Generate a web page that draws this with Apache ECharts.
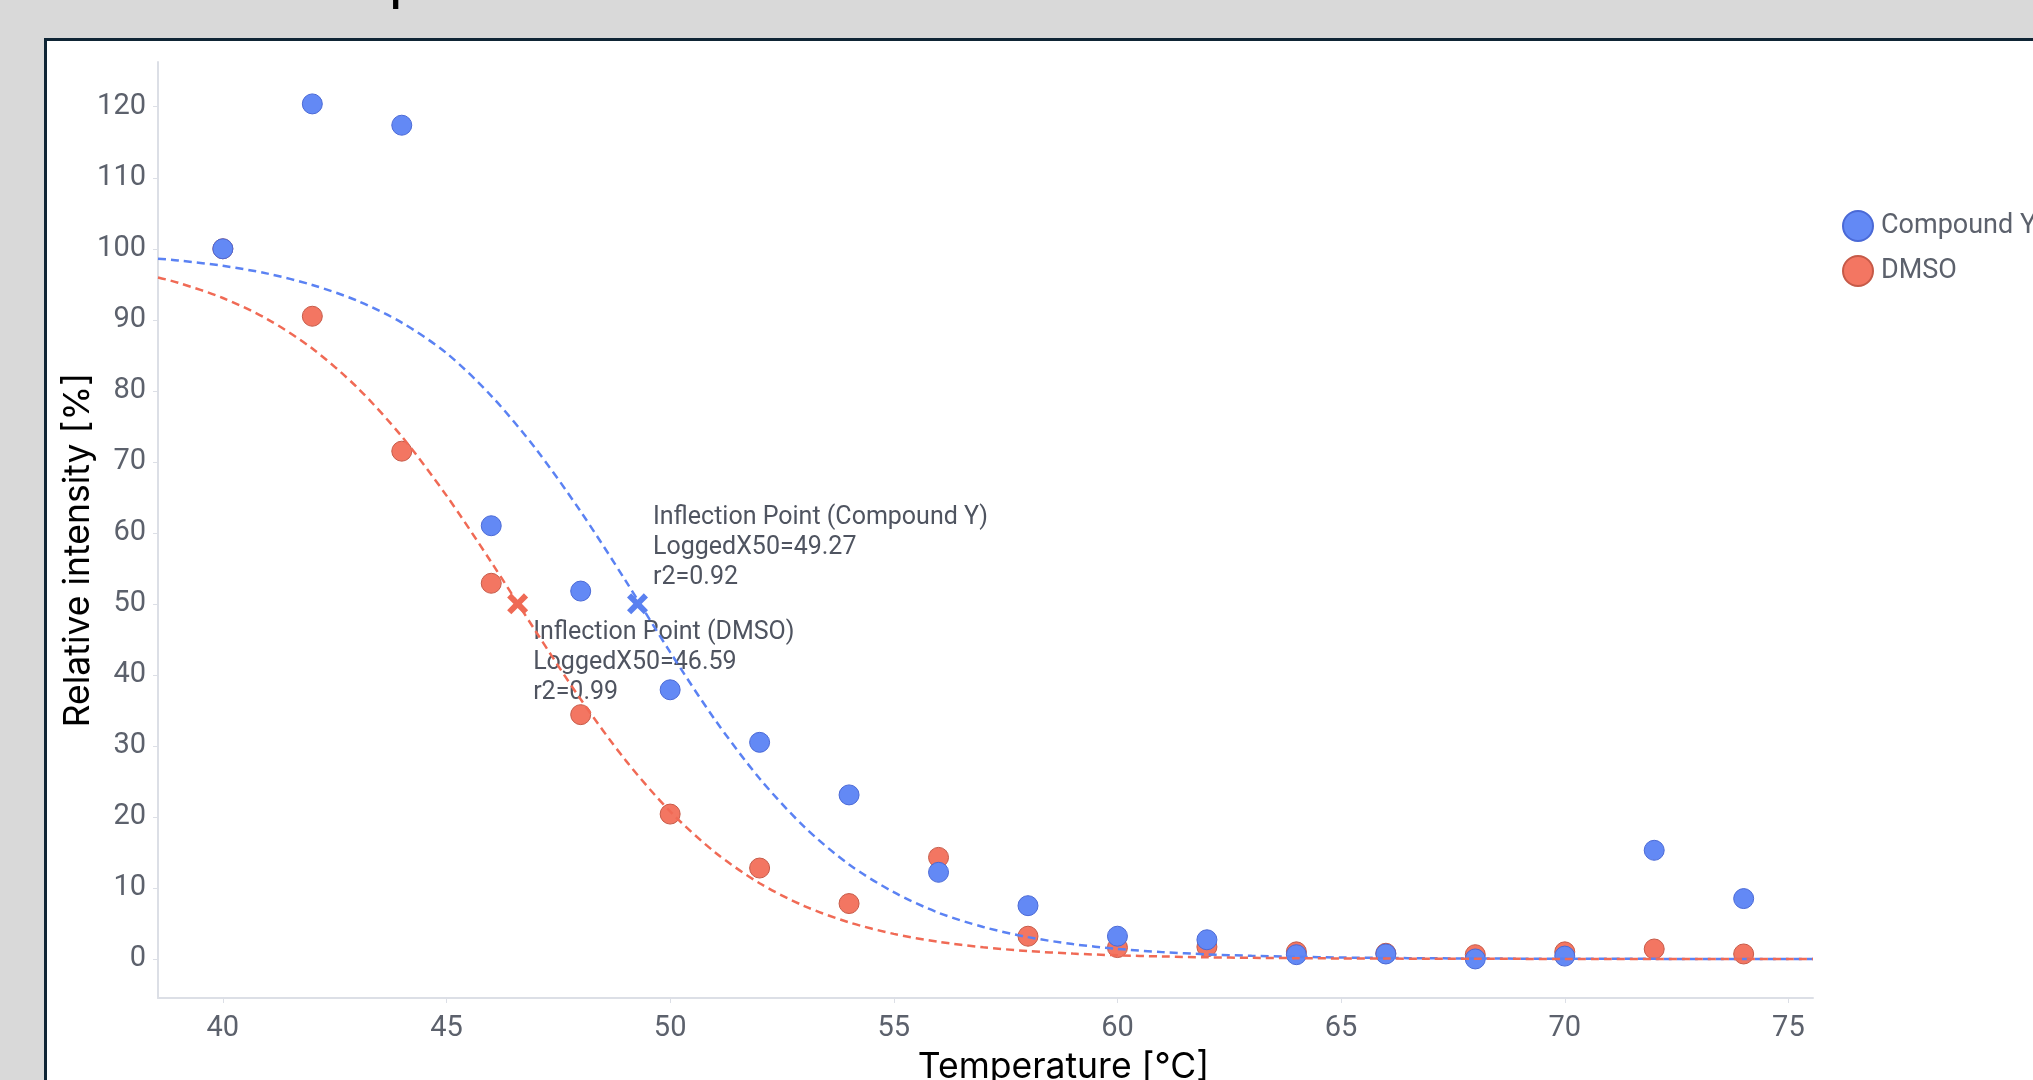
<!DOCTYPE html>
<html>
<head>
<meta charset="utf-8">
<script src="https://cdn.jsdelivr.net/npm/echarts@6/dist/echarts.min.js"></script>
<style>
html, body {
  margin: 0;
  padding: 0;
  width: 2033px;
  height: 1080px;
  overflow: hidden;
  background: #d9d9d9;
}
.heading {
  position: absolute;
  left: 389px;
  top: -53px;
  font: 60px/60px 'Liberation Sans', sans-serif;
  color: #000;
}
.panel {
  position: absolute;
  left: 44px;
  top: 38px;
  width: 2100px;
  height: 1100px;
  background: #fff;
  border-top: 3px solid #0f2535;
  border-left: 3px solid #0f2535;
}
#chart {
  position: absolute;
  left: 0;
  top: 0;
  width: 2033px;
  height: 1080px;
}
</style>
</head>
<body>
<div class="heading">p</div>
<div class="panel"></div>
<div id="chart"></div>
<script>
// measured points
const temps = [40, 42, 44, 46, 48, 50, 52, 54, 56, 58, 60, 62, 64, 66, 68, 70, 72, 74]
const compoundY = [100, 120.4, 117.4, 61.0, 51.8, 37.9, 30.5, 23.1, 12.2, 7.5, 3.2, 2.7, 0.6, 0.7, 0.0, 0.4, 15.3, 8.5]
const dmso = [100, 90.5, 71.5, 52.9, 34.4, 20.4, 12.8, 7.8, 14.3, 3.2, 1.6, 1.7, 1.0, 0.8, 0.6, 1.0, 1.4, 0.7]

// fitted curves
const fitX = [38.55, 39, 40, 41, 42, 43, 44, 45, 46, 47, 48, 49, 50, 51, 52, 53, 54, 55, 56, 57, 58, 59, 60, 61, 62, 63, 64, 65, 66, 67, 68, 69, 70, 71, 72, 73, 74, 75, 75.55]
const fitCompoundY = [98.6, 98.35, 97.6, 96.5, 94.9, 92.7, 89.6, 85.3, 79.3, 71.8, 63.0, 53.3, 43.2, 33.7, 25.4, 18.6, 13.3, 9.4, 6.5, 4.5, 3.07, 2.09, 1.42, 0.96, 0.65, 0.44, 0.3, 0.2, 0.14, 0.09, 0.06, 0.04, 0.03, 0.02, 0.01, 0, 0, 0, 0]
const fitDmso = [95.95, 95.22, 93.07, 90.07, 85.95, 80.49, 73.57, 65.24, 55.88, 46.08, 36.56, 28.0, 20.77, 15.03, 10.66, 7.45, 5.15, 3.53, 2.41, 1.64, 1.11, 0.75, 0.51, 0.35, 0.23, 0.16, 0.11, 0.07, 0.05, 0.03, 0.02, 0.01, 0, 0, 0, 0, 0, 0, 0]

// inflection points
const inflNames = ['Compound Y', 'DMSO']
const inflX = [49.27, 46.59]
const inflY = [50, 50]
const inflR2 = ['0.92', '0.99']

const xTicks = [40, 45, 50, 55, 60, 65, 70, 75]
const yTicks = [0, 10, 20, 30, 40, 50, 60, 70, 80, 90, 100, 110, 120]

const BLUE = '#6389f5'
const RED = '#f37662'
const LABEL = '#5c616c'
const AXIS = '#dcdfe6'

const zip = (xs, ys) => xs.map((x, i) => [x, ys[i]])
const crossPath = 'path://M0,4 L4,0 L10,6 L16,0 L20,4 L14,10 L20,16 L16,20 L10,14 L4,20 L0,16 L6,10 Z'

const chart = echarts.init(document.getElementById('chart'))

chart.setOption({
  animation: false,
  grid: {
    left: 158,
    right: 220,
    top: 62,
    bottom: 82,
    outerBoundsMode: 'none',
  },
  legend: {
    data: ['Compound Y', 'DMSO'],
    orient: 'vertical',
    left: 1837,
    top: 205,
    icon: 'circle',
    itemWidth: 30,
    itemHeight: 30,
    itemGap: 13,
    itemStyle: { borderWidth: 2 },
    textStyle: { fontFamily: 'Roboto', fontSize: 27, color: LABEL, padding: [0, 0, 0, 3] },
  },
  xAxis: {
    type: 'value',
    min: 38.55,
    max: 75.55,
    name: 'Temperature [°C]',
    nameLocation: 'middle',
    nameGap: 51,
    nameMoveOverlap: false,
    nameTextStyle: { fontFamily: 'Inter', fontSize: 35.5, color: '#000', padding: [0, 0, 0, 156] },
    splitLine: { show: false },
    axisLine: { show: true, onZero: false, lineStyle: { color: AXIS, width: 2 } },
    axisTick: { show: true, length: 5, customValues: xTicks, lineStyle: { color: AXIS } },
    axisLabel: { customValues: xTicks, margin: 16, fontFamily: 'Roboto', fontSize: 29, color: LABEL },
  },
  yAxis: {
    type: 'value',
    min: -5.5,
    max: 126.3,
    name: 'Relative intensity [%]',
    nameLocation: 'middle',
    nameGap: 62,
    nameMoveOverlap: false,
    nameRotate: 90,
    nameTextStyle: { fontFamily: 'Inter', fontSize: 35.5, color: '#000', padding: [0, 40, 0, 0] },
    splitLine: { show: false },
    axisLine: { show: true, onZero: false, lineStyle: { color: AXIS, width: 2 } },
    axisTick: { show: true, length: 5, customValues: yTicks, lineStyle: { color: AXIS } },
    axisLabel: { customValues: yTicks, margin: 12, fontFamily: 'Roboto', fontSize: 29, color: LABEL },
  },
  series: [
    {
      name: 'Compound Y fit',
      type: 'line',
      data: zip(fitX, fitCompoundY),
      smooth: 0.3,
      showSymbol: false,
      silent: true,
      lineStyle: { color: '#5b82f3', width: 2.5, type: [8, 5] },
    },
    {
      name: 'DMSO fit',
      type: 'line',
      data: zip(fitX, fitDmso),
      smooth: 0.3,
      showSymbol: false,
      silent: true,
      lineStyle: { color: '#f06a55', width: 2.5, type: [8, 5] },
    },
    {
      name: 'DMSO',
      type: 'scatter',
      data: zip(temps, dmso),
      symbolSize: 20,
      itemStyle: { color: RED, opacity: 1, borderColor: '#c65a48', borderWidth: 1 },
    },
    {
      name: 'Compound Y',
      type: 'scatter',
      data: zip(temps, compoundY),
      symbolSize: 20,
      itemStyle: { color: BLUE, opacity: 1, borderColor: '#4a69d6', borderWidth: 1 },
    },
    {
      name: 'Inflection',
      type: 'scatter',
      symbol: crossPath,
      symbolSize: 21,
      data: inflNames.map((n, i) => ({
        value: [inflX[i], inflY[i]],
        itemStyle: { color: i === 0 ? '#5a80f0' : '#ef6a55', opacity: 1 },
        label: {
          show: true,
          position: i === 0 ? [26, -91] : [26, 24],
          align: 'left',
          verticalAlign: 'top',
          fontFamily: 'Roboto',
          fontSize: 25,
          lineHeight: 30,
          color: '#4f5460',
          formatter: `Inflection Point (${n})\nLoggedX50=${inflX[i].toFixed(2)}\nr2=${inflR2[i]}`,
        },
      })),
    },
  ],
})
</script>
</body>
</html>
